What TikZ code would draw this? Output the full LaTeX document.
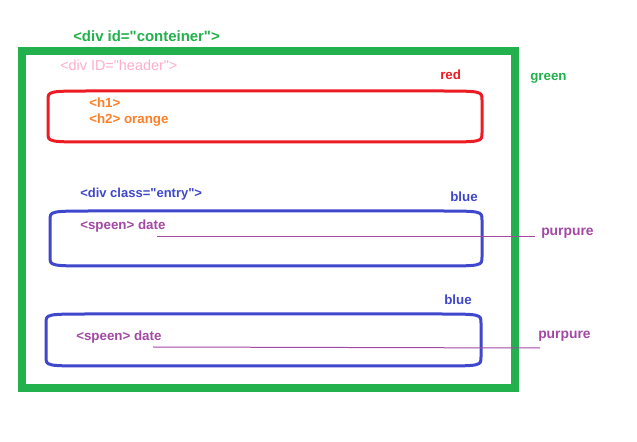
\documentclass[tikz,border=0pt]{standalone}
\usepackage{fontspec}
\setmainfont{Liberation Sans}[Ligatures=TeXOff]
\definecolor{pgreen}{HTML}{22B14C}
\definecolor{pred}{HTML}{ED1C24}
\definecolor{pblue}{HTML}{3F48CC}
\definecolor{ppurple}{HTML}{A349A4}
\definecolor{porange}{HTML}{FF7F27}
\definecolor{ppink}{HTML}{FFAEC9}
\newcommand{\paintbox}[5]{%
  \draw[#1] (#2,#3+9) .. controls (#2,#3) and (#2,#3) .. (#2+46,#3) -- (#4-46,#3)
    .. controls (#4,#3) and (#4,#3) .. (#4,#3+9) -- (#4,#5-9)
    .. controls (#4,#5) and (#4,#5) .. (#4-46,#5) -- (#2+46,#5)
    .. controls (#2,#5) and (#2,#5) .. (#2,#5-9) -- cycle;}
\begin{document}
\begin{tikzpicture}[x=0.75pt,y=-0.75pt,
  lbl/.style={inner sep=0pt,anchor=base west,font=\fontsize{10pt}{12pt}\selectfont\bfseries},
  thinline/.style={draw=ppurple,line width=0.75pt}]
\useasboundingbox[fill=white] (0,0) rectangle (637,442);
% green container
\draw[pgreen,line width=6pt] (22,51) rectangle (515,388);
% red header box
\paintbox{pred,line width=2.25pt}{48}{91}{482}{142}
% blue boxes
\paintbox{pblue,line width=2.25pt}{50}{211}{482}{266}
\paintbox{pblue,line width=2.25pt}{46}{314}{481}{366}
% labels
\node[lbl,text=pgreen,font=\fontsize{11.2pt}{13pt}\selectfont\bfseries] (cont) at (73,42) {<div id="conteiner">};
\node[lbl,text=ppink,font=\fontsize{10.8pt}{12pt}\selectfont] (hdr) at (60,71) {<div ID="header">};
\node[lbl,text=pred] (red) at (440,79.5) {red};
\node[lbl,text=pgreen] (green) at (530,80.5) {green};
\node[lbl,text=porange] (h1) at (89,108) {<h1>};
\node[lbl,text=porange] (h2) at (89,124) {<h2> orange};
\node[lbl,text=pblue,font=\fontsize{9.75pt}{12pt}\selectfont\bfseries] (entry) at (80,198) {<div class="entry">};
\node[lbl,text=pblue] (blue1) at (450,201.5) {blue};
\node[lbl,text=ppurple] (sp1) at (80,229.5) {<speen> date};
\node[lbl,text=ppurple,font=\fontsize{10.4pt}{12pt}\selectfont\bfseries] (pur1) at (541,235.5) {purpure};
\node[lbl,text=pblue] (blue2) at (444,304.5) {blue};
\node[lbl,text=ppurple] (sp2) at (76,340.5) {<speen> date};
\node[lbl,text=ppurple,font=\fontsize{10.4pt}{12pt}\selectfont\bfseries] (pur2) at (538,338.5) {purpure};
% connectors
\coordinate (a1) at (157,237);
\coordinate (b1) at (535,237);
\draw[thinline] (a1) -- (b1);
\coordinate (a2) at (153,347);
\coordinate (m2) at (347,347.5);
\coordinate (b2) at (540,348);
\draw[thinline] (a2) -- (m2) -- (b2);
\end{tikzpicture}
\end{document}
